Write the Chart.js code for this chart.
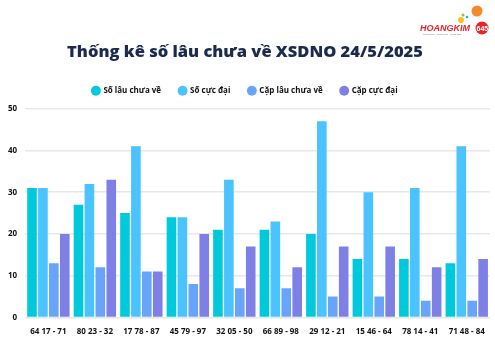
<!DOCTYPE html>
<html><head><meta charset="utf-8">
<script src="https://cdn.jsdelivr.net/npm/chart.js@4/dist/chart.umd.min.js"></script>
<style>html,body{margin:0;padding:0;background:#fff}#wrap{width:495px;height:345px;position:relative}</style>
</head><body><div id="wrap"><canvas id="c" width="495" height="345"></canvas></div>
<script>
const categories = ["64 17 - 71","80 23 - 32","17 78 - 87","45 79 - 97","32 05 - 50","66 89 - 98","29 12 - 21","15 46 - 64","78 14 - 41","71 48 - 84"];
const soLauChuaVe = [31,27,25,24,21,21,20,14,14,13];
const soCucDai = [31,32,41,24,33,23,47,30,31,41];
const capLauChuaVe = [13,12,11,8,7,7,5,5,4,4];
const capCucDai = [20,33,11,20,17,12,17,17,12,14];
const seriesNames = ["Số lâu chưa về","Số cực đại","Cặp lâu chưa về","Cặp cực đại"];
const colors = ["#00C9DC","#4AC3FF","#68A4FA","#7F80E6"];
const titleText = "Thống kê số lâu chưa về XSDNO 24/5/2025";

const logo = {
  id:'logo',
  afterInit(chart){
    const lg = chart.legend;
    if (lg) { const f = lg.fit; lg.fit = function(){ f.call(this); this.height += 4; }; }
  },
  afterDraw(chart){
    const ctx = chart.ctx;
    ctx.save();
    ctx.fillStyle = '#F28A2E'; ctx.beginPath(); ctx.arc(477,11,5.5,0,Math.PI*2); ctx.fill();
    ctx.fillStyle = '#F6C21C'; ctx.beginPath(); ctx.arc(461,20,3,0,Math.PI*2); ctx.fill();
    ctx.fillStyle = '#8CC63F'; ctx.beginPath(); ctx.arc(463,15,1.5,0,Math.PI*2); ctx.fill();
    ctx.fillStyle = '#29ABE2'; ctx.beginPath(); ctx.arc(467,17,1.3,0,Math.PI*2); ctx.fill();
    ctx.fillStyle = '#E8242B';
    ctx.font = 'italic bold 9px "Liberation Sans"';
    ctx.textBaseline = 'alphabetic';
    ctx.fillText('HOANGKIM', 420, 31);
    ctx.beginPath(); ctx.arc(482,28,6.5,0,Math.PI*2); ctx.fill();
    ctx.fillStyle = '#fff';
    ctx.font = 'bold 7px "Liberation Sans"';
    ctx.fillText('645', 476.5, 30.5);
    ctx.fillStyle = '#777';
    ctx.font = '2.5px "Liberation Sans"';
    ctx.fillText('Minh bạch - Chính xác - Công tâm', 423, 35);
    ctx.restore();
  }
};

new Chart(document.getElementById('c'), {
  type:'bar',
  data:{
    labels: categories,
    datasets:[
      {label:seriesNames[0], data:soLauChuaVe, backgroundColor:colors[0]},
      {label:seriesNames[1], data:soCucDai, backgroundColor:colors[1]},
      {label:seriesNames[2], data:capLauChuaVe, backgroundColor:colors[2]},
      {label:seriesNames[3], data:capCucDai, backgroundColor:colors[3]}
    ].map(d=>Object.assign(d,{borderWidth:0,barPercentage:0.88,categoryPercentage:0.94}))
  },
  options:{
    responsive:false, animation:false,
    layout:{padding:{left:0,right:5,top:42,bottom:6}},
    plugins:{
      title:{display:true,text:titleText,color:'#1B2A4E',font:{family:'"Open Sans"',size:16.5,weight:'800'},padding:{top:0,bottom:7}},
      legend:{position:'top',labels:{usePointStyle:true,pointStyle:'circle',boxWidth:7,boxHeight:7,padding:18,color:'#111',font:{family:'"Open Sans"',size:8,weight:'bold'}}},
      tooltip:{enabled:false}
    },
    scales:{
      x:{grid:{display:false},border:{display:false},ticks:{color:'#111',font:{family:'"Open Sans"',size:8,weight:'bold'},maxRotation:0,autoSkip:false,padding:2}},
      y:{min:0,max:50,grid:{color:'#E8E8E8',lineWidth:1.5,drawTicks:false},border:{display:false},ticks:{stepSize:10,color:'#111',font:{family:'"Open Sans"',size:8,weight:'bold'},padding:8}}
    }
  },
  plugins:[logo]
});
</script></body></html>
